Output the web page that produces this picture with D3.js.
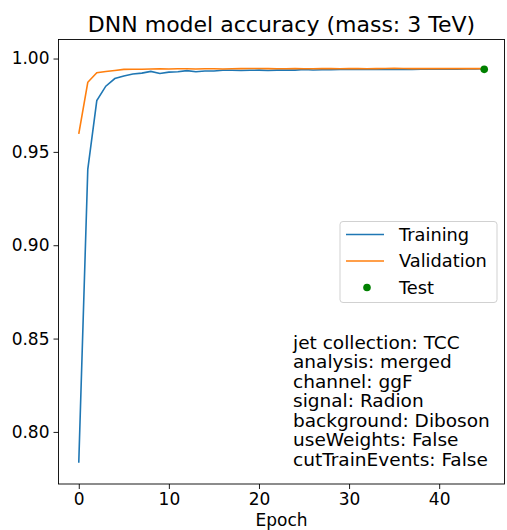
<!DOCTYPE html>
<html>
<head>
<meta charset="utf-8">
<script src="https://cdn.jsdelivr.net/npm/d3@7"></script>
<style>
  body { margin: 0; background: #fff; }
  svg { font-family: "DejaVu Sans", sans-serif; }
</style>
</head>
<body>
<div id="chart"></div>
<script>
// accuracy per epoch
var epochs = d3.range(0, 46);
var trainAcc = [
  0.7835, 0.9406, 0.9775, 0.9852, 0.9893, 0.9906, 0.9917, 0.9922, 0.9931, 0.9920,
  0.9927, 0.9929, 0.9935, 0.9929, 0.9933, 0.9933, 0.9937, 0.9937, 0.9936, 0.9937,
  0.9938, 0.9936, 0.9938, 0.9939, 0.9938, 0.9941, 0.9939, 0.9940, 0.9940, 0.9941,
  0.9941, 0.9941, 0.9942, 0.9941, 0.9942, 0.9943, 0.9942, 0.9941, 0.9943, 0.9943,
  0.9943, 0.9944, 0.9943, 0.9944, 0.9944, 0.9945
];
var valAcc = [
  0.9597, 0.9873, 0.9924, 0.9931, 0.9936, 0.9942, 0.9943, 0.9943, 0.9944, 0.9945,
  0.9944, 0.9945, 0.9945, 0.9944, 0.9945, 0.9945, 0.9944, 0.9945, 0.9946, 0.9947,
  0.9947, 0.9946, 0.9945, 0.9945, 0.9946, 0.9945, 0.9945, 0.9946, 0.9946, 0.9945,
  0.9946, 0.9946, 0.9945, 0.9946, 0.9947, 0.9948, 0.9947, 0.9946, 0.9946, 0.9946,
  0.9946, 0.9946, 0.9946, 0.9946, 0.9946, 0.9946
];
var testPoint = { epoch: 45, acc: 0.9942 };

var xTicks = [0, 10, 20, 30, 40];
var yTicks = [0.80, 0.85, 0.90, 0.95, 1.00];

var legendItems = [
  { label: 'Training', color: '#1f77b4', kind: 'line' },
  { label: 'Validation', color: '#ff7f0e', kind: 'line' },
  { label: 'Test', color: 'green', kind: 'dot' }
];

var infoLines = [
  'jet collection: TCC',
  'analysis: merged',
  'channel: ggF',
  'signal: Radion',
  'background: Diboson',
  'useWeights: False',
  'cutTrainEvents: False'
];

var width = 507,
  height = 530,
  margin = { top: 39.5, right: 2.5, bottom: 46, left: 58.5 };

var plotW = width - margin.left - margin.right,
  plotH = height - margin.top - margin.bottom;

var svg = d3.select('#chart').append('svg')
  .attr('width', width)
  .attr('height', height);

var x = d3.scaleLinear()
  .domain([-2.25, 47.25])
  .range([0, plotW]);

var y = d3.scaleLinear()
  .domain([0.7721, 1.0102])
  .range([plotH, 0]);

var chart = svg.append('g')
  .attr('transform', `translate(${margin.left},${margin.top})`);

// axes
var xAxis = chart.append('g')
  .attr('transform', `translate(0,${plotH})`)
  .call(d3.axisBottom(x).tickValues(xTicks).tickFormat(d3.format('d')).tickSize(5).tickPadding(4));

var yAxis = chart.append('g')
  .call(d3.axisLeft(y).tickValues(yTicks).tickFormat(d3.format('.2f')).tickSize(5).tickPadding(4));

[xAxis, yAxis].forEach(function (a) {
  a.select('.domain').remove();
  a.selectAll('line').attr('stroke', '#000').attr('stroke-width', 0.9);
  a.selectAll('text')
    .attr('fill', '#000')
    .style('font-size', '17px')
    .style('font-family', '"DejaVu Sans", sans-serif');
});

// frame
chart.append('rect')
  .attr('width', plotW)
  .attr('height', plotH)
  .attr('fill', 'none')
  .attr('stroke', '#000')
  .attr('stroke-width', 0.9);

var line = d3.line()
  .x((d, i) => x(epochs[i]))
  .y(d => y(d));

chart.append('path')
  .datum(trainAcc)
  .attr('d', line)
  .attr('fill', 'none')
  .attr('stroke', '#1f77b4')
  .attr('stroke-width', 1.6);

chart.append('path')
  .datum(valAcc)
  .attr('d', line)
  .attr('fill', 'none')
  .attr('stroke', '#ff7f0e')
  .attr('stroke-width', 1.6);

chart.append('circle')
  .attr('cx', x(testPoint.epoch))
  .attr('cy', y(testPoint.acc))
  .attr('r', 3.8)
  .attr('fill', 'green');

// title + axis label
svg.append('text')
  .attr('x', margin.left + plotW / 2)
  .attr('y', 32)
  .attr('text-anchor', 'middle')
  .style('font-size', '22px')
  .text('DNN model accuracy (mass: 3 TeV)');

svg.append('text')
  .attr('x', margin.left + plotW / 2)
  .attr('y', 526)
  .attr('text-anchor', 'middle')
  .style('font-size', '17px')
  .text('Epoch');

// legend
var legend = chart.append('g')
  .attr('transform', `translate(${340 - margin.left},${221.5 - margin.top})`);

legend.append('rect')
  .attr('width', 157)
  .attr('height', 81)
  .attr('rx', 3)
  .attr('fill', '#fff')
  .attr('fill-opacity', 0.8)
  .attr('stroke', '#ccc')
  .attr('stroke-width', 0.9);

var rows = legend.selectAll('g.row')
  .data(legendItems)
  .join('g')
  .attr('class', 'row')
  .attr('transform', (d, i) => `translate(0,${13 + i * 26.5})`);

rows.filter(d => d.kind == 'line').append('line')
  .attr('x1', 6).attr('x2', 44)
  .attr('stroke', d => d.color)
  .attr('stroke-width', 1.6);

rows.filter(d => d.kind == 'dot').append('circle')
  .attr('cx', 27)
  .attr('r', 3.8)
  .attr('fill', d => d.color);

rows.append('text')
  .attr('x', 59)
  .attr('y', 6)
  .style('font-size', '17.8px')
  .text(d => d.label);

// info box (glyphs look a bit wider than tall in the picture)
svg.append('g')
  .attr('transform', 'translate(293,0) scale(1.09,1)')
  .selectAll('text')
  .data(infoLines)
  .join('text')
  .attr('x', 0)
  .attr('y', (d, i) => 349 + i * 19.5)
  .style('font-size', '17px')
  .text(d => d);
</script>
</body>
</html>
